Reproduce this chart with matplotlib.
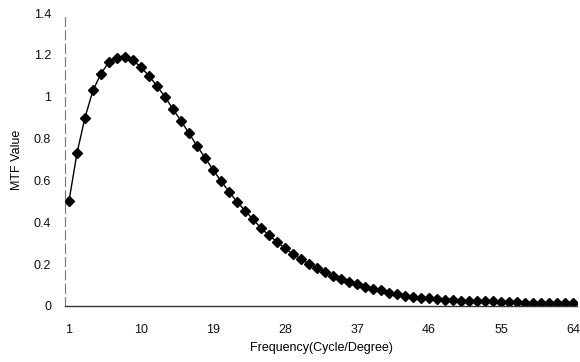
import matplotlib
matplotlib.use("Agg")
import matplotlib.pyplot as plt

plt.rcParams['font.family'] = ['Liberation Sans', 'DejaVu Sans']

frequency = list(range(1, 65))
mtf = [0.50, 0.73, 0.90, 1.03, 1.11, 1.166, 1.185, 1.19, 1.175, 1.14,
       1.10, 1.05, 1.00, 0.94, 0.885, 0.825, 0.765, 0.708, 0.651, 0.597,
       0.546, 0.498, 0.455, 0.414, 0.372, 0.337, 0.306, 0.275, 0.247, 0.223,
       0.200, 0.180, 0.161, 0.143, 0.127, 0.115, 0.104, 0.092, 0.083, 0.074,
       0.064, 0.057, 0.049, 0.044, 0.040, 0.036, 0.032, 0.028, 0.027, 0.024,
       0.024, 0.021, 0.022, 0.022, 0.019, 0.018, 0.017, 0.014, 0.013, 0.013,
       0.013, 0.014, 0.014, 0.014]
xticks = [1, 10, 19, 28, 37, 46, 55, 64]
yticks = [0, 0.2, 0.4, 0.6, 0.8, 1.0, 1.2, 1.4]
ytick_labels = ['0', '0.2', '0.4', '0.6', '0.8', '1', '1.2', '1.4']

fig = plt.figure(figsize=(5.8, 3.62), dpi=100)
ax = fig.add_axes([0.112, 0.155, 0.883, 0.809])
ax.plot(frequency, mtf, color='black', linewidth=1.0, marker='D',
        markersize=4.8, markerfacecolor='black', markeredgecolor='black')
ax.set_xlim(0.5, 64.5)
ax.set_ylim(0, 1.4)
ax.set_xticks(xticks)
ax.set_yticks(yticks)
ax.set_yticklabels(ytick_labels)
ax.tick_params(length=0, labelsize=9, colors='#111111')
ax.tick_params(axis='x', pad=13)
ax.tick_params(axis='y', pad=10)
for s in ['top', 'right']:
    ax.spines[s].set_visible(False)
ax.spines['left'].set_color('#777777')
ax.spines['left'].set_linewidth(0.8)
ax.spines['left'].set_linestyle((0, (8, 4)))
ax.spines['bottom'].set_color('#333333')
ax.spines['bottom'].set_linewidth(1.0)
ax.set_xlabel('Frequency(Cycle/Degree)', fontsize=9, labelpad=4)
ax.set_ylabel('MTF Value', fontsize=9, labelpad=8)
fig.savefig('out.png', dpi=100)
